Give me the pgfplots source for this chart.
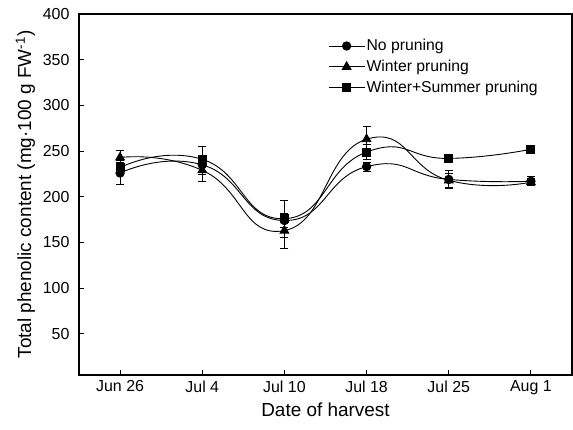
\documentclass[border=0pt]{standalone}
\usepackage{pgfplots}
\pgfplotsset{compat=1.18}
\usepackage{fontspec}
\setmainfont{Liberation Sans}
\begin{document}
\begin{tikzpicture}
\begin{axis}[name=ax,
  scale only axis, width=493bp, height=361bp,
  xmin=-0.5, xmax=5.5, ymin=5, ymax=400,
  xtick={0,...,5},
  xticklabels={Jun 26, Jul 4, Jul 10, Jul 18, Jul 25, Aug 1},
  ytick={50,100,...,400},
  tick align=inside, tick pos=left, major tick length=5bp,
  tick style={black, line width=0.9bp},
  axis line style={line width=1.1bp},
  ticklabel style={font=\fontsize{16}{18}\selectfont},
  yticklabel style={xshift=-6bp},
  xticklabel style={yshift=-2bp},
  /pgf/number format/assume math mode=true,
  xlabel={Date of harvest},
  ylabel={Total phenolic content (mg·100 g FW\textsuperscript{-1})},
  label style={font=\fontsize{19}{22}\selectfont},
  xlabel style={yshift=-1bp},
  ylabel style={yshift=1bp},
  legend style={draw=none, fill=none, at={(0.505,0.934)}, anchor=north west,
    font=\fontsize{15.8}{18}\selectfont, row sep=5bp, inner sep=0bp,
    nodes={inner sep=1.5bp}},
  legend cell align=left,
  legend image code/.code={\draw[mark repeat=2,mark phase=2] plot coordinates {(0bp,0bp)(18bp,0bp)(36bp,0bp)};},
  every axis plot/.append style={black, line width=0.9bp, smooth, tension=0.9,
    error bars/y dir=both, error bars/y explicit,
    error bars/error bar style={line width=0.8bp, solid},
    error bars/error mark options={rotate=90, mark size=4bp, line width=0.8bp}},
]
\addplot[mark=*, mark size=4.2bp, mark options={solid, fill=black}] coordinates {
 (0,226) +- (0,12) (1,235) +- (0,10) (2,174) +- (0,8) (3,233) +- (0,5) (4,219) +- (0,10) (5,217) +- (0,5)};
\addlegendentry{No pruning}
\addplot[mark=triangle*, mark size=5bp, mark options={solid, fill=black}] coordinates {
 (0,243) +- (0,8) (1,229) +- (0,12) (2,163) +- (0,19) (3,263) +- (0,14) (4,218) +- (0,8) (5,216) +- (0,4)};
\addlegendentry{Winter pruning}
\addplot[mark=square*, mark size=4bp, mark options={solid, fill=black}] coordinates {
 (0,232) +- (0,8) (1,241) +- (0,14) (2,176) +- (0,20) (3,249) +- (0,8) (4,242) +- (0,3) (5,252) +- (0,4)};
\addlegendentry{Winter+Summer pruning}
\end{axis}
\pgfresetboundingbox
\path ([shift={(-79bp,-54bp)}]ax.south west) rectangle ([shift={(1bp,14bp)}]ax.north east);
\end{tikzpicture}
\end{document}
